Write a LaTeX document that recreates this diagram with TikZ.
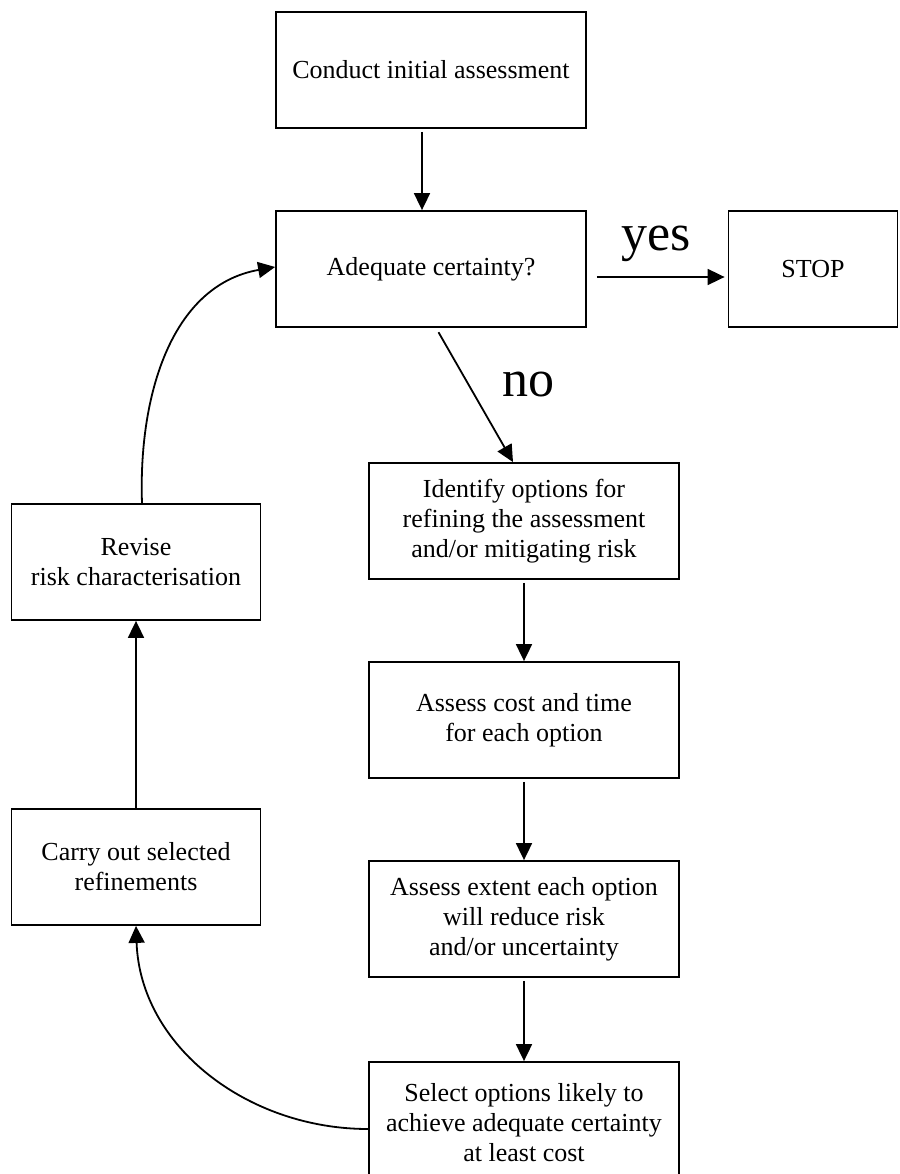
\documentclass[tikz,border=0pt]{standalone}
\usepackage{fontspec}
\setmainfont{Liberation Serif}
\usetikzlibrary{arrows.meta}

\begin{document}
\begin{tikzpicture}[
	x=1pt, y=-1pt,
	every node/.style={font=\fontsize{26}{30}\selectfont},
	stepbox/.style={draw, line width=1.8pt, minimum width=310pt, minimum height=116pt, inner sep=0pt, align=center},
	sidebox/.style={stepbox, minimum width=249pt},
	arr/.style={line width=1.8pt, -{Triangle[length=17pt,width=16pt]}},
	biglabel/.style={font=\fontsize{52}{52}\selectfont}
	]
	\useasboundingbox (0,0) rectangle (899,1174);
	
	% main column
	\node[stepbox] (conduct) at (431,70) {Conduct initial assessment};
	\node[stepbox] (adequate) at (431,269) {Adequate certainty?};
	\node[stepbox, minimum width=169pt] (stop) at (813,269) {STOP};
	\node[stepbox] (identify) at (524,521) {Identify options for\\refining the assessment\\and/or mitigating risk};
	\node[stepbox] (cost) at (524,720) {Assess cost and time\\for each option};
	\node[stepbox] (extent) at (524,919) {Assess extent each option\\will reduce risk\\and/or uncertainty};
	\node[stepbox, minimum height=122pt] (select) at (524,1123) {Select options likely to\\achieve adequate certainty\\at least cost};
	
	% left column
	\node[sidebox] (revise) at (136,562) {Revise\\risk characterisation};
	\node[sidebox] (carry) at (136,867) {Carry out selected\\refinements};
	
	\node[biglabel] (yes) at (656,244) {yes};
	\node[biglabel] (no) at (528,385) {no};
	
	\draw[arr, shorten <=3pt] ([xshift=-9pt]adequate.north |- conduct.south) -- ([xshift=-9pt]adequate.north);
	\draw[arr, shorten <=10pt, shorten >=3pt] ([yshift=-8pt]adequate.east) -- ([yshift=-8pt]stop.west);
	\draw[arr, shorten <=5pt] ([xshift=5pt]adequate.south) -- ([xshift=-11pt]identify.north);
	\draw[arr, shorten <=3pt] (identify) -- (cost);
	\draw[arr, shorten <=3pt] (cost) -- (extent);
	\draw[arr, shorten <=3pt] (extent) -- (select);
	\draw[arr] ([yshift=-6pt]select.west) to[out=180, in=-88] (carry.south);
	\draw[arr] (carry) -- (revise);
	\draw[arr] ([xshift=6pt]revise.north) to[out=92, in=190] ([yshift=2pt]adequate.west);
\end{tikzpicture}
\end{document}
